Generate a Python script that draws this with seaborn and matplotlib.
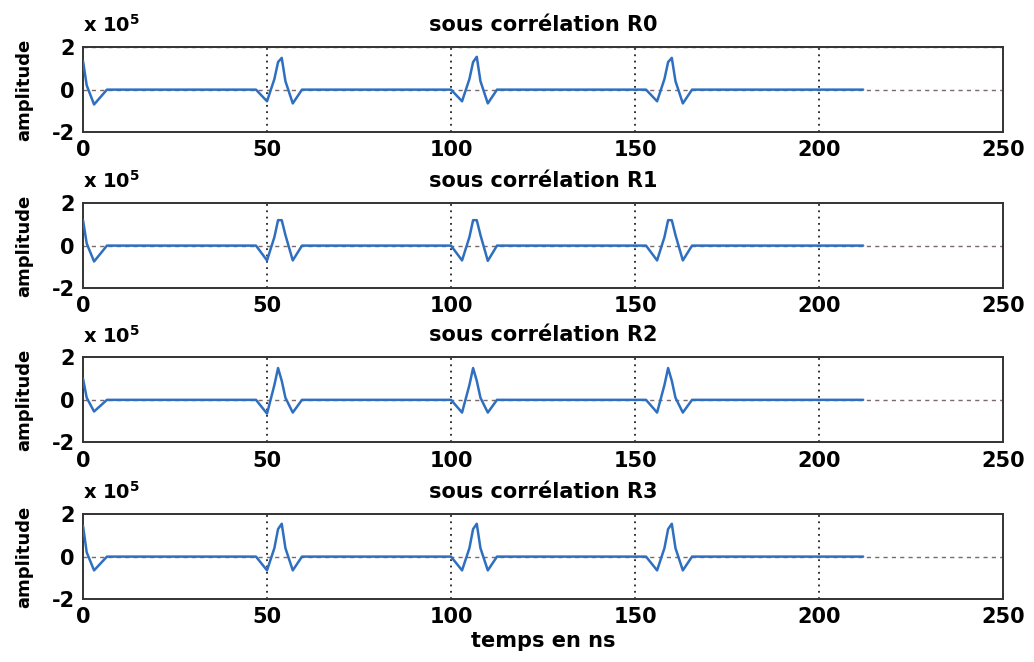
import pandas as pd
import seaborn as sns
import matplotlib
matplotlib.use('Agg')
import matplotlib.pyplot as plt

# breakpoints of the sampled correlation curves (time in ns, amplitude in units of 1e5)
t_ns = [0, 1, 3, 6.5,
        47, 50, 52, 53, 54, 55, 57, 59.5,
        100, 103, 105, 106, 107, 108, 110, 112.5,
        153, 156, 158, 159, 160, 161, 163, 165.5,
        212]
r0 = [1.35, 0.2, -0.7, 0,
      0, -0.55, 0.5, 1.3, 1.5, 0.4, -0.65, 0,
      0, -0.55, 0.5, 1.3, 1.55, 0.4, -0.65, 0,
      0, -0.55, 0.5, 1.3, 1.5, 0.4, -0.65, 0,
      0]
r1 = [1.2, 0.1, -0.75, 0,
      0, -0.7, 0.4, 1.2, 1.2, 0.5, -0.7, 0,
      0, -0.7, 0.4, 1.2, 1.2, 0.5, -0.72, 0,
      0, -0.7, 0.4, 1.2, 1.2, 0.5, -0.7, 0,
      0]
r2 = [1.0, 0.1, -0.55, 0,
      0, -0.65, 0.7, 1.5, 0.9, 0.1, -0.6, 0,
      0, -0.6, 0.7, 1.5, 0.9, 0.1, -0.6, 0,
      0, -0.6, 0.7, 1.5, 0.9, 0.1, -0.6, 0,
      0]
r3 = [1.45, 0.2, -0.65, 0,
      0, -0.65, 0.4, 1.3, 1.55, 0.4, -0.65, 0,
      0, -0.65, 0.4, 1.3, 1.55, 0.4, -0.65, 0,
      0, -0.65, 0.4, 1.3, 1.55, 0.4, -0.65, 0,
      0]
titles = ['sous corrélation R0', 'sous corrélation R1',
          'sous corrélation R2', 'sous corrélation R3']
x_ticks = [0, 50, 100, 150, 200, 250]
y_ticks = [-2, 0, 2]

sns.set_style('white')
plt.rcParams['font.family'] = ['DejaVu Sans']
plt.rcParams['font.weight'] = 'bold'
plt.rcParams['axes.unicode_minus'] = False
plt.rcParams['mathtext.default'] = 'bf'
plt.rcParams['text.color'] = 'black'
plt.rcParams['axes.labelcolor'] = 'black'
plt.rcParams['xtick.labelcolor'] = 'black'
plt.rcParams['ytick.labelcolor'] = 'black'

fig = plt.figure(figsize=(10.34, 6.62), dpi=100)
bottoms = [0.8006, 0.565, 0.332, 0.0952]

for i, (vals, title) in enumerate(zip([r0, r1, r2, r3], titles)):
    ax = fig.add_axes([0.0803, bottoms[i], 0.8897, 0.128])
    df = pd.DataFrame({'t': t_ns, 'amp': vals})
    # grid first so the curve sits on top
    for xv in x_ticks[1:-1]:
        ax.axvline(xv, color='#222222', ls=(0, (1, 2.5)), lw=1.3, zorder=1)
    ax.axhline(0, color='#7a6a6a', ls=(0, (3, 3)), lw=1.0, zorder=1)
    if i == 0:
        ax.axhline(2, color='#7a6a6a', ls=(0, (3, 3)), lw=1.0, zorder=1)
    sns.lineplot(data=df, x='t', y='amp', color='#2f6fc0', lw=1.8, ax=ax, zorder=3)
    ax.set_xlim(0, 250)
    ax.set_ylim(-2, 2)
    ax.set_xticks(x_ticks)
    ax.set_yticks(y_ticks)
    ax.tick_params(direction='in', length=4, labelsize=15, pad=6, color='#333333')
    for lbl in ax.get_xticklabels() + ax.get_yticklabels():
        lbl.set_fontweight('bold')
    for sp in ax.spines.values():
        sp.set_color('#333333')
        sp.set_linewidth(1.4)
    ax.set_title(title, fontsize=15, fontweight='bold', pad=12)
    ax.set_ylabel('amplitude', fontsize=13, fontweight='bold')
    ax.yaxis.set_label_coords(-0.054, 0.5)
    ax.set_xlabel('')
    ax.text(0.0, 1.13, r'x 10$^{5}$', transform=ax.transAxes, fontsize=14,
            fontweight='bold', ha='left', va='bottom')
    if i == 3:
        ax.set_xlabel('temps en ns', fontsize=15, fontweight='bold', labelpad=3)

fig.savefig('out.png', dpi=100)
